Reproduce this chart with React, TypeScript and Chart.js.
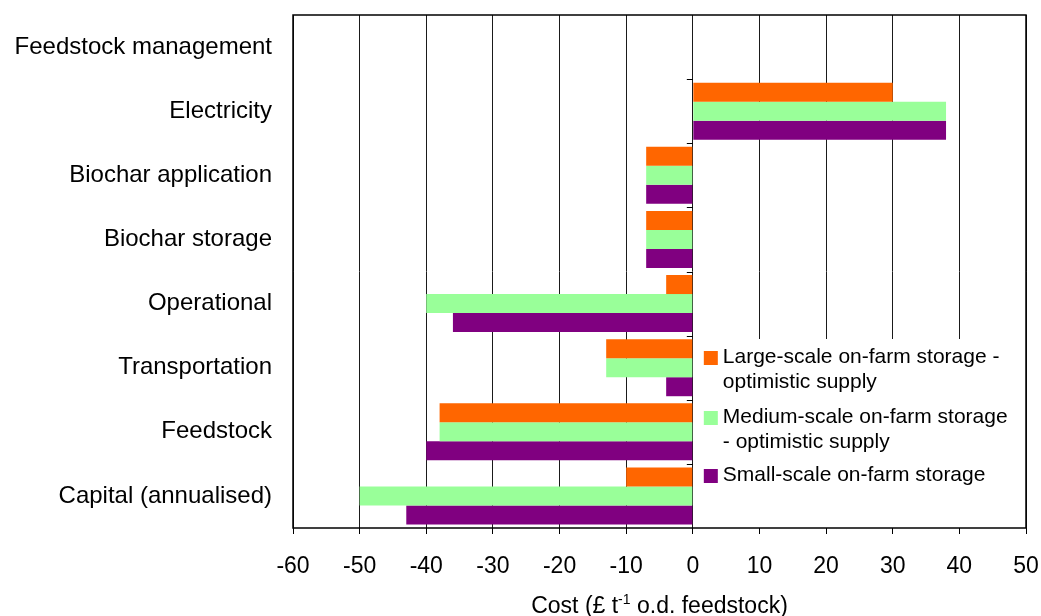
import React, { useEffect, useRef } from "react";
import { Chart, registerables } from "chart.js";

Chart.register(...registerables);

const categories = [
  "Feedstock management",
  "Electricity",
  "Biochar application",
  "Biochar storage",
  "Operational",
  "Transportation",
  "Feedstock",
  "Capital (annualised)",
];
const largeScale = [0, 30, -7, -7, -4, -13, -38, -10];
const mediumScale = [0, 38, -7, -7, -40, -13, -38, -50];
const smallScale = [0, 38, -7, -7, -36, -4, -40, -43];
const seriesLabels = [
  ["Large-scale on-farm storage -", "optimistic supply"],
  ["Medium-scale on-farm storage", "- optimistic supply"],
  ["Small-scale on-farm storage"],
];
const seriesColors = ["#FF6600", "#99FF99", "#800080"];
const xMin = -60;
const xMax = 50;
const xStep = 10;
const axisTitleMain = "Cost (£ t";
const axisTitleSup = "-1";
const axisTitleEnd = " o.d. feedstock)";

const FONT = "'Liberation Sans', Arial, Helvetica, sans-serif";

const decorPlugin = {
  id: "decor",
  afterDatasetsDraw(chart: any) {
    const ctx = chart.ctx;
    const area = chart.chartArea;
    const xs = chart.scales.x;
    const ys = chart.scales.y;
    const x0 = xs.getPixelForValue(0);

    // boundary ticks on the zero line
    ctx.save();
    ctx.strokeStyle = "#000";
    ctx.lineWidth = 1;
    for (let i = 0; i < categories.length - 1; i++) {
      const yb = Math.round((ys.getPixelForValue(i) + ys.getPixelForValue(i + 1)) / 2) + 0.5;
      ctx.beginPath();
      ctx.moveTo(x0 - 6, yb);
      ctx.lineTo(x0, yb);
      ctx.stroke();
    }
    ctx.restore();

    // legend box
    const boxTop = area.bottom - 189;
    ctx.save();
    ctx.fillStyle = "#fff";
    ctx.fillRect(x0 + 2, boxTop, area.right - x0 - 2, area.bottom - boxTop);
    const baselines = [[24, 49], [84, 109], [142]];
    ctx.font = `21px ${FONT}`;
    ctx.textBaseline = "alphabetic";
    ctx.textAlign = "left";
    seriesLabels.forEach((lines, i) => {
      const bl = baselines[i];
      ctx.fillStyle = seriesColors[i];
      ctx.fillRect(x0 + 11, boxTop + bl[0] - 12, 14, 14);
      ctx.fillStyle = "#000";
      lines.forEach((t, j) => {
        ctx.fillText(t, x0 + 30, boxTop + bl[j]);
      });
    });
    ctx.restore();

    // plot border
    ctx.save();
    ctx.strokeStyle = "#000";
    ctx.lineWidth = 1.5;
    ctx.strokeRect(area.left, area.top, area.right - area.left, area.bottom - area.top);
    ctx.restore();

    // axis title with superscript
    ctx.save();
    ctx.fillStyle = "#000";
    ctx.textBaseline = "alphabetic";
    ctx.textAlign = "left";
    const bigFont = `23px ${FONT}`;
    const smallFont = `14px ${FONT}`;
    ctx.font = bigFont;
    const w1 = ctx.measureText(axisTitleMain).width;
    const w3 = ctx.measureText(axisTitleEnd).width;
    ctx.font = smallFont;
    const w2 = ctx.measureText(axisTitleSup).width;
    const total = w1 + w2 + w3;
    const cx = (area.left + area.right) / 2;
    let x = cx - total / 2;
    const base = area.bottom + 85;
    ctx.font = bigFont;
    ctx.fillText(axisTitleMain, x, base);
    x += w1;
    ctx.font = smallFont;
    ctx.fillText(axisTitleSup, x, base - 9);
    x += w2;
    ctx.font = bigFont;
    ctx.fillText(axisTitleEnd, x, base);
    ctx.restore();
  },
};

function zeroPad(scale: any) {
  scale.paddingTop = 0;
  scale.paddingBottom = 0;
  scale.paddingLeft = 0;
  scale.paddingRight = 0;
}

export default function App() {
  const canvasRef = useRef<HTMLCanvasElement | null>(null);

  useEffect(() => {
    document.body.style.margin = "0";
    const canvas = canvasRef.current;
    if (!canvas) return;
    const datasets = [largeScale, mediumScale, smallScale].map((d, i) => ({
      label: seriesLabels[i].join(" "),
      data: d,
      backgroundColor: seriesColors[i],
      borderWidth: 0,
      categoryPercentage: 0.89,
      barPercentage: 1,
    }));
    const chart = new Chart(canvas, {
      type: "bar",
      data: { labels: categories, datasets },
      options: {
        indexAxis: "y",
        animation: false,
        responsive: true,
        maintainAspectRatio: false,
        layout: { padding: { left: 0, top: 15, right: 15, bottom: 0 }, autoPadding: false },
        plugins: {
          legend: { display: false },
          tooltip: { enabled: false },
          title: { display: false },
        },
        scales: {
          x: {
            type: "linear",
            min: xMin,
            max: xMax,
            ticks: {
              stepSize: xStep,
              color: "#000",
              font: { family: FONT, size: 23 },
              padding: 19,
              maxRotation: 0,
            },
            grid: {
              color: "#1a1a1a",
              lineWidth: 1,
              drawTicks: true,
              tickLength: 6,
              tickColor: "#000",
            },
            border: { display: false },
            afterFit(scale: any) {
              scale.height = 88;
              zeroPad(scale);
            },
          },
          y: {
            type: "category",
            ticks: {
              color: "#000",
              font: { family: FONT, size: 24 },
              padding: 21,
            },
            grid: { display: false, drawTicks: false },
            border: { display: false },
            afterFit(scale: any) {
              scale.width = 293;
              zeroPad(scale);
            },
          },
        },
      },
      plugins: [decorPlugin],
    } as any);
    return () => chart.destroy();
  }, []);

  return (
    <div style={{ position: "relative", width: 1041, height: 616 }}>
      <canvas ref={canvasRef} />
    </div>
  );
}
